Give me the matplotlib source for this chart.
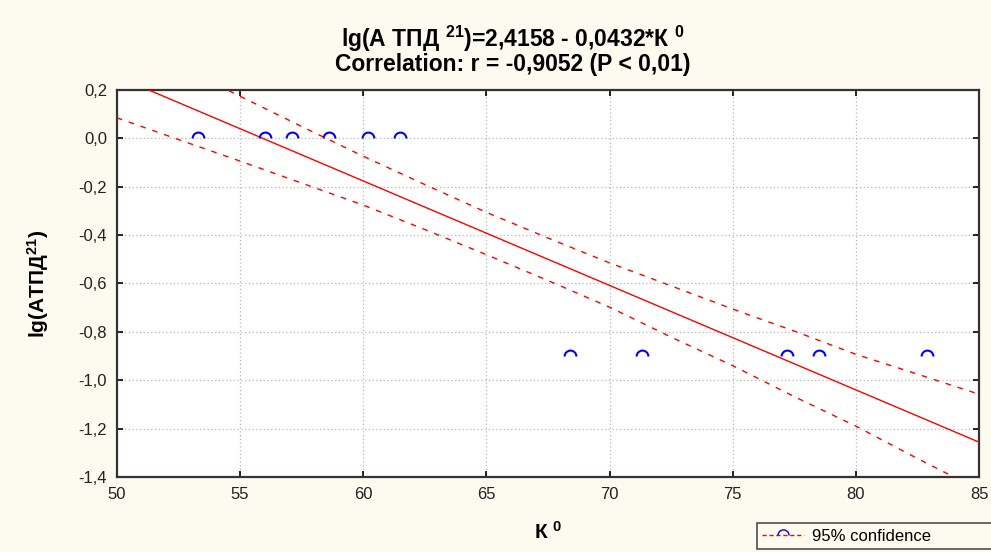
import numpy as np
import matplotlib
matplotlib.use("Agg")
import matplotlib.pyplot as plt
from matplotlib.path import Path
from matplotlib.lines import Line2D
from matplotlib.ticker import FuncFormatter

plt.rcParams['font.family'] = ['Liberation Sans', 'DejaVu Sans']
plt.rcParams['mathtext.fontset'] = 'custom'
plt.rcParams['mathtext.rm'] = 'Liberation Sans:bold'
plt.rcParams['mathtext.bf'] = 'Liberation Sans:bold'
plt.rcParams['mathtext.default'] = 'bf'

# observed points (K0, lg ATPD21)
k0 = [53.3, 56.0, 57.1, 58.6, 60.2, 61.5, 68.4, 71.3, 77.2, 78.5, 82.9]
lg_atpd = [0.0, 0.0, 0.0, 0.0, 0.0, 0.0, -0.9, -0.9, -0.9, -0.9, -0.9]

# regression from the title
intercept = 2.4158
slope = -0.0432

# 95% confidence bands
band_x = [50, 52.5, 55, 57.5, 60, 62.5, 65, 67.5, 70, 72.5, 75, 77.5, 80, 82.5, 85]
band_upper = [0.428, 0.300, 0.174, 0.049, -0.074, -0.191, -0.306, -0.412, -0.515,
              -0.610, -0.706, -0.797, -0.893, -0.975, -1.058]
band_lower = [0.085, -0.005, -0.094, -0.185, -0.276, -0.377, -0.481, -0.588, -0.698,
              -0.822, -0.940, -1.068, -1.190, -1.324, -1.453]

bg = '#fdfaf0'
fig = plt.figure(figsize=(9.91, 5.52), dpi=100, facecolor=bg)
ax = fig.add_axes([0.118, 0.136, 0.870, 0.701])
ax.set_facecolor('white')

# half-circle marker
arc = Path.arc(0, 180)
xs = np.array([50, 85])
ax.plot(xs, intercept + slope * xs, color='red', lw=1.0, zorder=3)
ax.plot(band_x, band_upper, color='red', lw=1.0, ls=(0, (4, 5)), zorder=3)
ax.plot(band_x, band_lower, color='red', lw=1.0, ls=(0, (4, 5)), zorder=3)
ax.plot(k0, lg_atpd, ls='none', marker=arc, ms=8.5, mew=1.5,
        mec='blue', mfc='none', zorder=4)

ax.set_xlim(50, 85)
ax.set_ylim(-1.4, 0.2)
ax.set_xticks(np.arange(50, 86, 5))
ax.set_yticks(np.round(np.arange(-1.4, 0.21, 0.2), 1))
ax.yaxis.set_major_formatter(FuncFormatter(lambda v, p: f"{v:.1f}".replace('.', ',').replace('-0,0', '0,0')))
ax.grid(True, color='#b8b8b8', ls=(0, (1, 2)), lw=0.9)
ax.tick_params(direction='in', length=4, width=1.2, labelsize=12,
               top=True, right=True, labelcolor='#222222', pad=7)
for s in ax.spines.values():
    s.set_linewidth(1.6)
    s.set_color('#333333')

fig.text(0.517, 0.930, r'lg(А ТПД $^{21}$)=2,4158 - 0,0432*К $^{0}$',
         ha='center', va='center', fontsize=16.5, fontweight='bold')
fig.text(0.517, 0.883, 'Correlation: r = -0,9052 (P < 0,01)',
         ha='center', va='center', fontsize=16.5, fontweight='bold')
ax.set_xlabel(r'К $^{0}$', fontsize=15, fontweight='bold', labelpad=14)
ax.set_ylabel(r'lg(АТПД$^{21}$)', fontsize=15, fontweight='bold', labelpad=20)

handle = Line2D([], [], color='red', ls=(0, (3, 2)), lw=1.0, marker=arc,
                ms=8, mec='blue', mfc='none')
leg = fig.legend([handle], ['95% confidence'], loc='upper left',
                 bbox_to_anchor=(0.755, 0.058, 0.27, 0.01), mode='expand',
                 fontsize=12, frameon=True,
                 fancybox=False, edgecolor='#222222', facecolor=bg,
                 borderpad=0.35, handlelength=2.5, handletextpad=0.5, numpoints=1)
leg.get_frame().set_linewidth(1.2)

fig.savefig('out.png', dpi=100, facecolor=bg)
